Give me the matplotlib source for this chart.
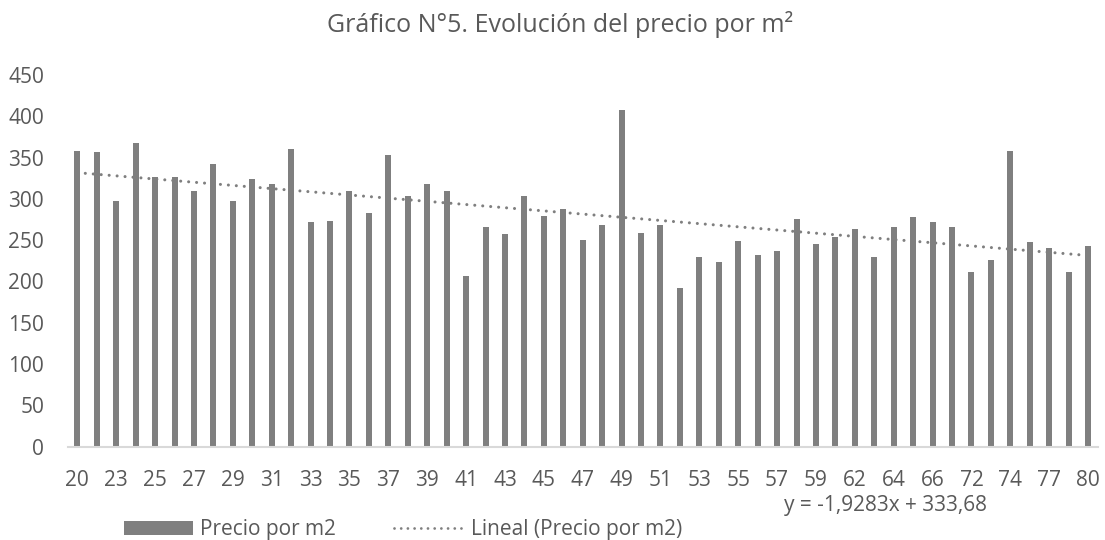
"""
Gráfico N°5 - Evolución del precio por m2 (bar chart + linear trend)
"""

import matplotlib
matplotlib.use('Agg')
import matplotlib.pyplot as plt
from matplotlib.patches import Patch
from matplotlib.lines import Line2D
import numpy as np

# ———————— DATA ————————
categories = ['20', '21', '23', '24', '25', '26', '27', '28', '29', '30',
              '31', '32', '33', '34', '35', '36', '37', '38', '39', '40',
              '41', '42', '43', '44', '45', '46', '47', '48', '49', '50',
              '51', '52', '53', '54', '55', '56', '57', '58', '59', '60',
              '62', '63', '64', '65', '66', '70', '72', '73', '74', '75',
              '77', '78', '80']
precio_m2 = [358, 357, 297, 368, 327, 326, 309, 342, 297, 324,
             318, 361, 272, 273, 310, 283, 353, 304, 318, 310,
             207, 266, 258, 303, 279, 288, 250, 268, 408, 259,
             268, 192, 230, 224, 249, 232, 237, 276, 246, 254,
             263, 230, 266, 278, 272, 266, 212, 226, 358, 248,
             240, 211, 243]

# trendline reported on the chart
trend_slope = -1.9283
trend_intercept = 333.68

yticks = [0, 50, 100, 150, 200, 250, 300, 350, 400, 450]

# ———————— STYLE ————————
BAR = '#7F7F7F'
TEXT = '#595959'
AXIS = '#D9D9D9'

plt.rcParams['font.family'] = ['Open Sans', 'DejaVu Sans']

fig = plt.figure(figsize=(11.05, 5.4), dpi=100)
ax = fig.add_axes([0.0612, 0.1728, 0.9323, 0.6883])

x = np.arange(len(categories))
ax.bar(x, precio_m2, width=0.31, color=BAR, zorder=2)

xt = np.arange(1, len(categories) + 1)
ax.plot(x, trend_slope * xt + trend_intercept, color=BAR, lw=2.2,
        linestyle=(0, (0.01, 2.6)), dash_capstyle='round', zorder=3)

ax.set_xlim(-0.5, len(categories) - 0.5)
ax.set_ylim(0, 450)
ax.set_yticks(yticks)
ax.set_xticks(x[::2])
ax.set_xticklabels(categories[::2])

for side in ['top', 'right', 'left']:
    ax.spines[side].set_visible(False)
ax.spines['bottom'].set_color(AXIS)
ax.spines['bottom'].set_linewidth(1.5)
ax.tick_params(axis='both', length=0, labelsize=15, colors=TEXT)
ax.tick_params(axis='x', pad=17)
ax.tick_params(axis='y', pad=17)

fig.text(0.507, 1 - 24 / 540, 'Gráfico N°5. Evolución del precio por m²',
         ha='center', va='center', fontsize=18, color=TEXT)

handles = [
    Patch(facecolor=BAR, edgecolor='none'),
    Line2D([0], [0], color=BAR, lw=2.0, linestyle=(0, (0.01, 2.4)),
           dash_capstyle='round'),
]
fig.legend(handles, ['Precio por m2', 'Lineal (Precio por m2)'],
           loc='center', bbox_to_anchor=(403 / 1105, 1 - 530 / 540),
           ncol=2, frameon=False, fontsize=15, labelcolor=TEXT,
           handlelength=3.3, handleheight=0.62, handletextpad=0.35,
           columnspacing=2.8)

fig.text(885 / 1105, 1 - 506 / 540, 'y = -1,9283x + 333,68',
         ha='center', va='center', fontsize=15, color=TEXT)

fig.savefig('out.png', dpi=100, facecolor='white')
